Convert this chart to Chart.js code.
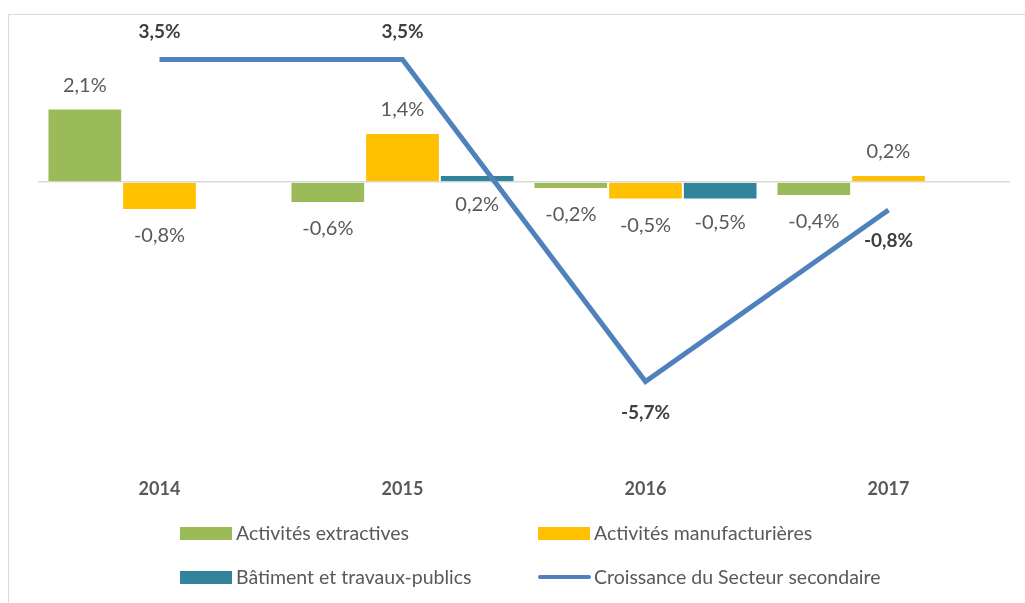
<!DOCTYPE html>
<html>
<head>
<meta charset="utf-8">
<script src="https://cdn.jsdelivr.net/npm/chart.js@4"></script>
<style>
  html, body { margin: 0; padding: 0; background: #fff; overflow: hidden; }
  #wrap { position: relative; width: 1025px; height: 603px; }
  #frame { position: absolute; left: 8px; top: 14px; width: 1040px; height: 620px; border: 1px solid #d9d9d9; box-sizing: border-box; }
  canvas { position: absolute; left: 0; top: 0; }
</style>
</head>
<body>
<div id="wrap">
  <div id="frame"></div>
  <canvas id="myChart" width="1025" height="603"></canvas>
</div>
<script>
// années
const years = ['2014', '2015', '2016', '2017'];

// croissance par branche (%)
const extractives = [2.1, -0.6, -0.2, -0.4];
const manufacturieres = [-0.8, 1.4, -0.5, 0.2];
const btp = [0, 0.2, -0.5, 0];

// croissance du secteur secondaire (%)
const secondaire = [3.5, 3.5, -5.7, -0.8];

const fmt = v => v.toFixed(1).replace('.', ',') + '%';

// étiquettes de valeurs (façon Excel)
const labelPlugin = {
    id: 'valueLabels',
    afterDatasetsDraw(chart) {
        const ctx = chart.ctx;
        const y0 = chart.scales.y.getPixelForValue(0);
        ctx.save();
        ctx.textAlign = 'center';
        ctx.textBaseline = 'middle';
        chart.data.datasets.forEach((ds, i) => {
            const meta = chart.getDatasetMeta(i);
            meta.data.forEach((el, j) => {
                const v = ds.data[j];
                if (v === 0) return;
                let y;
                if (ds.type === 'line') {
                    ctx.font = 'bold 19px Lato';
                    ctx.fillStyle = '#404040';
                    y = v >= 0 ? el.y - 28 : el.y + 31;
                } else {
                    ctx.font = '20px Lato';
                    ctx.fillStyle = '#595959';
                    if (ds.label.startsWith('Bâtiment')) {
                        y = Math.max(el.y, y0) + 23;
                    } else {
                        y = v >= 0 ? el.y - 23 : el.y + 26;
                    }
                }
                ctx.fillText(fmt(v), el.x, y);
            });
        });
        ctx.restore();
    }
};

// légende sur deux colonnes
const legendPlugin = {
    id: 'twoColLegend',
    afterDraw(chart) {
        const ctx = chart.ctx;
        const cols = [180, 538];
        const rows = [533, 577];
        ctx.save();
        ctx.font = '19.5px Lato';
        ctx.textBaseline = 'middle';
        chart.data.datasets.forEach((ds, i) => {
            const x = cols[i % 2];
            const y = rows[Math.floor(i / 2)];
            if (ds.type === 'line') {
                ctx.strokeStyle = ds.borderColor;
                ctx.lineWidth = 4;
                ctx.lineCap = 'round';
                ctx.beginPath();
                ctx.moveTo(x + 2, y);
                ctx.lineTo(x + 51, y);
                ctx.stroke();
            } else {
                ctx.fillStyle = ds.backgroundColor;
                ctx.fillRect(x, y - 6, 52, 13);
            }
            ctx.fillStyle = '#595959';
            ctx.fillText(ds.label, x + 56, y + 1);
        });
        ctx.restore();
    }
};

const ctx = document.getElementById('myChart').getContext('2d');
new Chart(ctx, {
    data: {
        labels: years,
        datasets: [
            {
                type: 'bar',
                label: 'Activités extractives',
                data: extractives,
                backgroundColor: '#9bbb59',
                borderColor: '#ffffff',
                borderWidth: 1,
                order: 1
            },
            {
                type: 'bar',
                label: 'Activités manufacturières',
                data: manufacturieres,
                backgroundColor: '#ffc000',
                borderColor: '#ffffff',
                borderWidth: 1,
                order: 1
            },
            {
                type: 'bar',
                label: 'Bâtiment et travaux-publics',
                data: btp,
                backgroundColor: '#31849b',
                borderColor: '#ffffff',
                borderWidth: 1,
                order: 1
            },
            {
                type: 'line',
                label: 'Croissance du Secteur secondaire',
                data: secondaire,
                borderColor: '#4f81bd',
                borderWidth: 5,
                pointRadius: 0,
                tension: 0,
                order: 0
            }
        ]
    },
    options: {
        responsive: false,
        animation: false,
        events: [],
        layout: { padding: { left: 38, right: 15, top: 42, bottom: 105 } },
        datasets: {
            bar: { categoryPercentage: 0.922, barPercentage: 1.0 }
        },
        plugins: {
            legend: { display: false },
            tooltip: { enabled: false }
        },
        scales: {
            x: {
                grid: { display: false, drawTicks: false },
                border: { display: false },
                ticks: {
                    padding: 16,
                    color: '#595959',
                    font: { family: 'Lato', size: 18, weight: 'bold' }
                },
                afterFit(scale) { scale.height = 36; }
            },
            y: {
                min: -8,
                max: 4,
                ticks: { display: false },
                border: { display: false },
                grid: {
                    drawTicks: false,
                    lineWidth: 1.5,
                    color: c => c.tick && c.tick.value === 0 ? '#d9d9d9' : 'rgba(0,0,0,0)'
                },
                afterFit(scale) { scale.width = 0; }
            }
        }
    },
    plugins: [labelPlugin, legendPlugin]
});
</script>
</body>
</html>
